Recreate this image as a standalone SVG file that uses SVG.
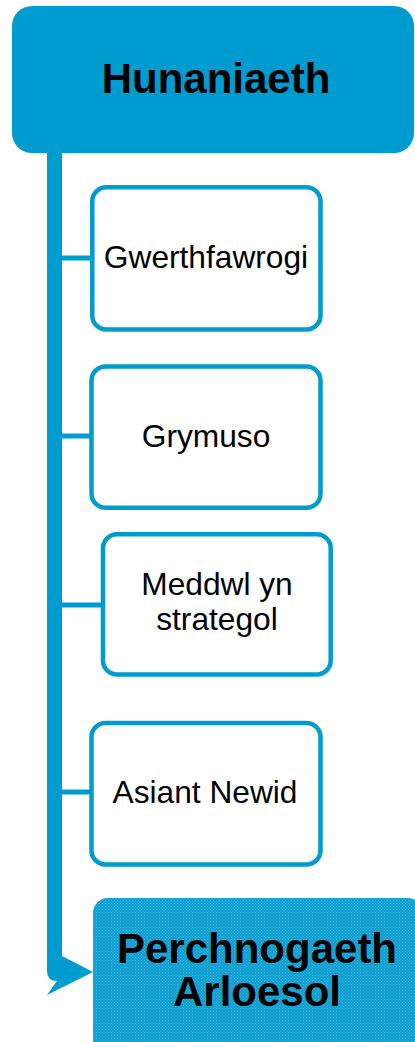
<svg xmlns="http://www.w3.org/2000/svg" width="415" height="1042" viewBox="0 0 415 1042">
  <defs>
    <!-- fine dither texture used for the final box -->
    <pattern id="dither" width="3" height="3" patternUnits="userSpaceOnUse">
      <rect width="3" height="3" fill="#0A9FD0"/>
      <rect x="0" y="0" width="1" height="1" fill="#45B4DD"/>
      <rect x="1.5" y="1.5" width="1" height="1" fill="#45B4DD"/>
    </pattern>
    <style>
      .step { fill: #FFFFFF; stroke: #009CCF; stroke-width: 4.5; }
      .link { stroke: #009CCF; stroke-width: 5; fill: none; }
      .label { font-family: "Liberation Sans", Arial, sans-serif; font-size: 31.7px; fill: #000000; text-anchor: middle; }
      .title { font-family: "Liberation Sans", Arial, sans-serif; font-size: 42px; font-weight: bold; fill: #000000; text-anchor: middle; }
    </style>
  </defs>

  <!-- spine with bent arrow into the final box, and branches to each step -->
  <g id="connectors">
    <path d="M47,150 H62 V956 L93,972 L47,995 L57,981 Q47,981 47,971 Z" fill="#009CCF"/>
    <line class="link" x1="60" y1="258" x2="92" y2="258"/>
    <line class="link" x1="60" y1="436" x2="92" y2="436"/>
    <line class="link" x1="60" y1="605" x2="103" y2="605"/>
    <line class="link" x1="60" y1="792" x2="92" y2="792"/>
  </g>

  <g id="node-hunaniaeth">
    <rect x="12" y="6" width="402" height="147" rx="20" ry="20" fill="#009CCF"/>
    <text class="title" x="216" y="93">Hunaniaeth</text>
  </g>

  <g id="node-gwerthfawrogi">
    <rect class="step" x="92.3" y="187.3" width="228.2" height="142.2" rx="14" ry="14"/>
    <text class="label" x="206" y="268">Gwerthfawrogi</text>
  </g>

  <g id="node-grymuso">
    <rect class="step" x="91.5" y="366.5" width="229" height="141.2" rx="14" ry="14"/>
    <text class="label" x="206" y="447">Grymuso</text>
  </g>

  <g id="node-meddwl">
    <rect class="step" x="103" y="534.3" width="227.7" height="140.2" rx="14" ry="14"/>
    <text class="label" x="217" y="595">Meddwl yn</text>
    <text class="label" x="217" y="630">strategol</text>
  </g>

  <g id="node-asiant">
    <rect class="step" x="91.5" y="723" width="229" height="141.5" rx="14" ry="14"/>
    <text class="label" x="205" y="803">Asiant Newid</text>
  </g>

  <g id="node-perchnogaeth">
    <rect x="93" y="898" width="330" height="160" rx="15" ry="15" fill="url(#dither)"/>
    <text class="title" x="257" y="963">Perchnogaeth</text>
    <text class="title" x="257" y="1006">Arloesol</text>
  </g>
</svg>
